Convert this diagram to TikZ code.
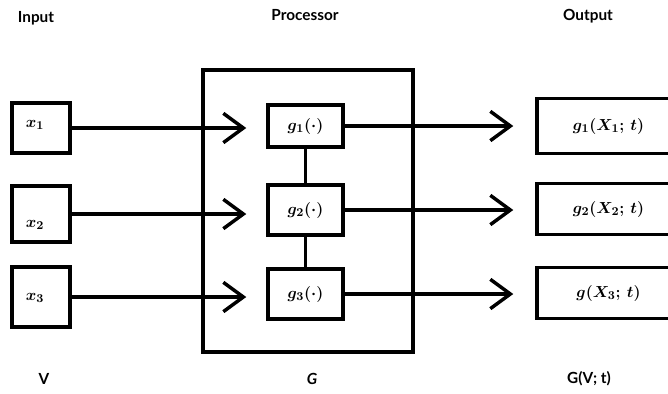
\documentclass[tikz,border=0pt]{standalone}
\usepackage{fontspec}
\setsansfont{Lato}
\usetikzlibrary{arrows.meta}
\begin{document}
\begin{tikzpicture}[x=0.75pt,y=-0.75pt,
  box/.style={draw,line width=2.6pt,inner sep=0pt},
  arr/.style={-{Straight Barb[length=15pt,width=22pt]}, line width=2.6pt},
  lnk/.style={line width=2.6pt},
  ttl/.style={font=\sffamily\bfseries\fontsize{11.5}{13}\selectfont},
  mth/.style={font=\fontsize{13}{15}\selectfont\boldmath}]
\useasboundingbox (0,0) rectangle (668,393);
% processor frame
\node[box, minimum width=157.5pt, minimum height=211.5pt] (proc) at (308,211) {};
% input boxes
\node[box, minimum width=43.5pt, minimum height=37.5pt] (in1) at (41,128) {};
\node[box, minimum width=43.5pt, minimum height=42pt] (in2) at (41,214) {};
\node[box, minimum width=43.5pt, minimum height=45pt] (in3) at (41,297) {};
\node[mth] (lx1) at (35,125) {$x_1$};
\node[mth] (lx2) at (35,225) {$x_2$};
\node[mth] (lx3) at (35,298) {$x_3$};
% g boxes
\node[box, mth, minimum width=56.25pt, minimum height=31.5pt] (g1) at (305.5,126) {$g_1(\cdot)$};
\node[box, mth, minimum width=56.25pt, minimum height=37.5pt] (g2) at (305.5,210) {$g_2(\cdot)$};
\node[box, mth, minimum width=56.25pt, minimum height=37.5pt] (g3) at (305.5,294) {$g_3(\cdot)$};
% output boxes
\node[box, mth, minimum width=107.25pt, minimum height=41.25pt] (o1) at (608.5,126) {$g_1(X_1;\,t)$};
\node[box, mth, minimum width=107.25pt, minimum height=38.25pt] (o2) at (608.5,209) {$g_2(X_2;\,t)$};
\node[box, mth, minimum width=107.25pt, minimum height=38.25pt] (o3) at (608.5,293) {$g(X_3;\,t)$};
% connectors
\draw[arr, shorten >=15pt] (in1.east) -- (in1.east -| g1.west);
\draw[arr, shorten >=15pt] (in2.east) -- (in2.east -| g2.west);
\draw[arr, shorten >=15pt] (in3.east) -- (in3.east -| g3.west);
\draw[arr, shorten >=16.5pt] (g1.east) -- (g1.east -| o1.west);
\draw[arr, shorten >=16.5pt] (g2.east) -- (g2.east -| o2.west);
\draw[arr, shorten >=16.5pt] (g3.east) -- (g3.east -| o3.west);
\draw[lnk] (g1.south) -- (g2.north);
\draw[lnk] (g2.south) -- (g3.north);
% titles
\node[ttl] (tin) at (36,18) {Input};
\node[ttl] (tproc) at (305,15) {Processor};
\node[ttl] (tout) at (588,16) {Output};
\node[ttl] (bv) at (44,379) {V};
\node[ttl, font=\sffamily\bfseries\itshape\fontsize{11.5}{13}\selectfont] (bg) at (312,379) {G};
\node[ttl] (bgv) at (589,379) {G(V; t)};
\end{tikzpicture}
\end{document}
